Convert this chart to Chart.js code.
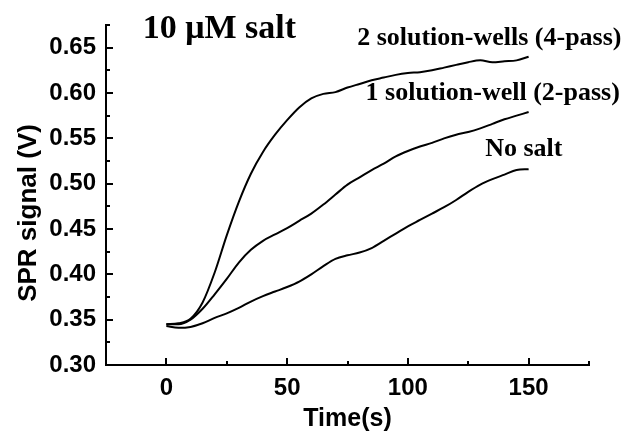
<!DOCTYPE html>
<html lang="en">

<head>
    <meta charset="UTF-8" />
    <title>SPR signal vs time</title>
    <script src="https://cdn.jsdelivr.net/npm/chart.js"></script>
</head>
<style>
    html,
    body {
        margin: 0;
        padding: 0;
        background: #fff;
    }

    #sprChart {
        display: block;
    }
</style>

<body>
    <canvas id="sprChart" width="636" height="434"></canvas>
</body>

</html>

<script>
    // time in seconds, shared by all three runs
    const timeS = [0, 5, 10, 15, 20, 25, 30, 35, 40, 45, 50, 55, 60, 65, 70, 75,
        80, 85, 90, 95, 100, 105, 110, 115, 120, 125, 130, 135, 140, 145, 150];

    // SPR signal (V)
    const twoWells = [0.345, 0.346, 0.351, 0.369, 0.402, 0.443, 0.480, 0.511, 0.535, 0.554, 0.570,
        0.584, 0.594, 0.599, 0.601, 0.606, 0.610, 0.614, 0.617, 0.620, 0.622, 0.623, 0.625,
        0.628, 0.631, 0.634, 0.636, 0.634, 0.635, 0.636, 0.640];
    const oneWell = [0.345, 0.345, 0.350, 0.362, 0.378, 0.395, 0.413, 0.427, 0.437, 0.444, 0.451,
        0.459, 0.467, 0.477, 0.488, 0.499, 0.507, 0.515, 0.522, 0.530, 0.536, 0.541, 0.545,
        0.550, 0.554, 0.557, 0.561, 0.566, 0.571, 0.575, 0.579];
    const noSalt = [0.343, 0.341, 0.342, 0.346, 0.352, 0.357, 0.363, 0.370, 0.376, 0.381, 0.386,
        0.392, 0.400, 0.409, 0.417, 0.421, 0.424, 0.429, 0.437, 0.445, 0.453, 0.460, 0.467,
        0.474, 0.482, 0.491, 0.499, 0.505, 0.510, 0.515, 0.516];

    const seriesLabels = ['2 solution-wells (4-pass)', '1 solution-well (2-pass)', 'No salt'];

    const xTicks = [0, 50, 100, 150];
    const xMinor = [25, 75, 125, 175];
    const yTicks = [0.30, 0.35, 0.40, 0.45, 0.50, 0.55, 0.60, 0.65];
    const yMinor = [0.325, 0.375, 0.425, 0.475, 0.525, 0.575, 0.625, 0.675];

    const toPoints = (ys) => ys.map((v, i) => ({ x: timeS[i], y: v }));

    const axisFont = { family: '"Liberation Sans", Arial, sans-serif', weight: 'bold', size: 24 };

    // inward ticks, y title, heading and curve labels
    const decorPlugin = {
        id: 'decor',
        afterDraw(chart) {
            const c = chart.ctx;
            const xs = chart.scales.x;
            const ys = chart.scales.y;
            const area = chart.chartArea;
            c.save();
            c.strokeStyle = '#000';
            c.lineWidth = 2;
            c.beginPath();
            xTicks.forEach(v => {
                const px = Math.round(xs.getPixelForValue(v));
                c.moveTo(px, area.bottom); c.lineTo(px, area.bottom - 7);
            });
            xMinor.forEach(v => {
                const px = Math.round(xs.getPixelForValue(v));
                c.moveTo(px, area.bottom); c.lineTo(px, area.bottom - 4);
            });
            yTicks.forEach(v => {
                const py = Math.round(ys.getPixelForValue(v));
                c.moveTo(area.left, py); c.lineTo(area.left + 7, py);
            });
            yMinor.forEach(v => {
                const py = Math.round(ys.getPixelForValue(v));
                c.moveTo(area.left, py); c.lineTo(area.left + 4, py);
            });
            c.stroke();

            c.fillStyle = '#000';

            // y axis title
            c.save();
            c.translate(36, 213);
            c.rotate(-Math.PI / 2);
            c.font = 'bold 26px "Liberation Sans", Arial, sans-serif';
            c.textAlign = 'center';
            c.textBaseline = 'alphabetic';
            c.fillText('SPR signal (V)', 0, 0);
            c.restore();

            // heading
            c.font = 'bold 34px "Liberation Serif", "Times New Roman", serif';
            c.textAlign = 'left';
            c.textBaseline = 'alphabetic';
            c.fillText('10 \u03BCM salt', xs.getPixelForValue(-9.8), ys.getPixelForValue(0.661));

            // curve labels
            c.font = 'bold 26px "Liberation Serif", "Times New Roman", serif';
            const labelAt = [[79, 0.653], [82.5, 0.592], [132, 0.530]];
            seriesLabels.forEach((t, i) => {
                c.fillText(t, xs.getPixelForValue(labelAt[i][0]), ys.getPixelForValue(labelAt[i][1]));
            });
            c.restore();
        }
    };

    const lineStyle = {
        borderColor: '#000',
        borderWidth: 2,
        pointRadius: 0,
        cubicInterpolationMode: 'monotone',
        fill: false
    };

    new Chart(document.getElementById('sprChart'), {
        type: 'line',
        data: {
            datasets: [
                { label: seriesLabels[0], data: toPoints(twoWells), ...lineStyle },
                { label: seriesLabels[1], data: toPoints(oneWell), ...lineStyle },
                { label: seriesLabels[2], data: toPoints(noSalt), ...lineStyle }
            ]
        },
        options: {
            responsive: false,
            animation: false,
            layout: {
                padding: { left: 0, top: 25, right: 47, bottom: 0 }
            },
            plugins: {
                legend: { display: false },
                tooltip: { enabled: false }
            },
            scales: {
                x: {
                    type: 'linear',
                    min: -25,
                    max: 175,
                    afterFit: (s) => { s.height = 69; },
                    afterBuildTicks: (s) => { s.ticks = xTicks.map(v => ({ value: v })); },
                    border: { display: true, color: '#000', width: 2 },
                    grid: { display: false, drawTicks: false },
                    ticks: {
                        color: '#000',
                        padding: 9,
                        font: axisFont,
                        maxRotation: 0
                    },
                    title: {
                        display: true,
                        text: 'Time(s)',
                        color: '#000',
                        padding: { top: 2, bottom: 0 },
                        font: { family: '"Liberation Sans", Arial, sans-serif', weight: 'bold', size: 25 }
                    }
                },
                y: {
                    min: 0.30,
                    max: 0.675,
                    afterFit: (s) => { s.width = 106; },
                    afterBuildTicks: (s) => { s.ticks = yTicks.map(v => ({ value: v })); },
                    border: { display: true, color: '#000', width: 2 },
                    grid: { display: false, drawTicks: false },
                    ticks: {
                        color: '#000',
                        padding: 10,
                        font: axisFont,
                        callback: (v) => v.toFixed(2)
                    }
                }
            }
        },
        plugins: [decorPlugin]
    });
</script>
